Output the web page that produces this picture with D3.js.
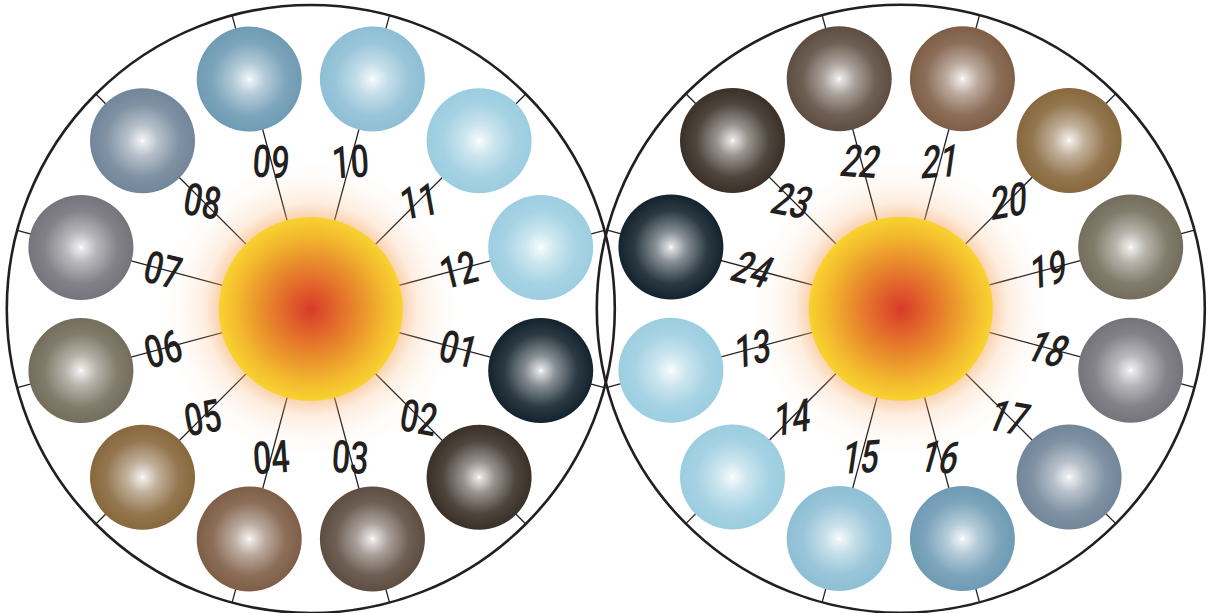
<!DOCTYPE html>
<html>
<head>
<meta charset="utf-8">
<script src="https://cdn.jsdelivr.net/npm/d3@7"></script>
<style>
  body { margin: 0; background: #fff; }
  svg { display: block; }
</style>
</head>
<body>
<svg id="chart"></svg>
<script>
// data
const leftLabels = ['01', '02', '03', '04', '05', '06', '07', '08', '09', '10', '11', '12'];
const rightLabels = ['13', '14', '15', '16', '17', '18', '19', '20', '21', '22', '23', '24'];
const leftColors = ['#13232d', '#3a3027', '#5e4d41', '#7f5e46', '#88683d', '#746d5c',
                    '#75747c', '#72869a', '#6f9bb4', '#8ebfd5', '#9bcde0', '#9ccee1'];
const rightColors = ['#9ccee1', '#9bcde0', '#8ebfd5', '#6f9bb4', '#72869a', '#75747c',
                     '#746d5c', '#88683d', '#7f5e46', '#5e4d41', '#3a3027', '#13232d'];

// set up constants
const width = 1209;
const height = 613;
const outerR = 304;
const sunR = 92;
const glowR = 148;
const orbitR = 238;
const ballR = 52.5;
const labelR = 153;
const ink = '#231f20';

const svg = d3.select('#chart')
  .attr('width', width)
  .attr('height', height);

const defs = svg.append('defs');

// sun gradient
const sunGrad = defs.append('radialGradient').attr('id', 'sun');
[[0, '#d83a2a'], [0.25, '#e1622b'], [0.55, '#ea912c'], [0.8, '#f3b92e'], [1, '#f8d330']]
  .forEach(s => sunGrad.append('stop').attr('offset', s[0]).attr('stop-color', s[1]));

const glowGrad = defs.append('radialGradient').attr('id', 'glow');
[[0, 0.55], [sunR / glowR, 0.5], [0.72, 0.2], [0.86, 0.06], [1, 0]]
  .forEach(s => glowGrad.append('stop').attr('offset', s[0])
    .attr('stop-color', '#f5a862').attr('stop-opacity', s[1]));

// one gradient per ball colour
const ballColors = Array.from(new Set(leftColors.concat(rightColors)));
ballColors.forEach((c, i) => {
  const mix = d3.interpolateRgb('#ffffff', c);
  const g = defs.append('radialGradient').attr('id', 'ball' + i);
  [[0, 0], [0.05, 0.15], [0.3, 0.52], [0.7, 0.9], [1, 1]]
    .forEach(s => g.append('stop').attr('offset', s[0]).attr('stop-color', mix(s[1])));
});

// position helper, angle in screen degrees (clockwise from +x)
const polar = (cx, cy, r, deg) => {
  const a = deg * Math.PI / 180;
  return [cx + r * Math.cos(a), cy + r * Math.sin(a)];
};

// label tilt: small rotation following the spoke
const tilt = deg => {
  let a = ((deg % 360) + 360) % 360;
  if (a > 90 && a <= 270) a -= 180;
  if (a > 270) a -= 360;
  const rad = a * Math.PI / 180;
  return Math.sign(a) * 14 * Math.cos(rad) / Math.cos(Math.PI / 12);
};

const wheels = [
  { cx: 310.8, cy: 309, labels: leftLabels, colors: leftColors,
    angle: d3.scaleLinear().domain([0, 11]).range([15, 345]), skew: 0 },
  { cx: 900.8, cy: 308.7, labels: rightLabels, colors: rightColors,
    angle: d3.scaleLinear().domain([0, 11]).range([165, -165]), skew: -12 }
];

// outer rings first so both arcs show in the overlap
svg.selectAll('circle.ring')
  .data(wheels)
  .enter()
  .append('circle')
  .attr('class', 'ring')
  .attr('cx', d => d.cx)
  .attr('cy', d => d.cy)
  .attr('r', outerR)
  .attr('fill', 'none')
  .attr('stroke', ink)
  .attr('stroke-width', 2.6);

wheels.forEach(w => {
  const g = svg.append('g');
  const items = w.labels.map((label, i) => ({
    label, color: w.colors[i], deg: w.angle(i)
  }));

  // spokes from centre to the rim (balls cover the middle part)
  g.selectAll('line')
    .data(items)
    .enter()
    .append('line')
    .attr('x1', w.cx)
    .attr('y1', w.cy)
    .attr('x2', d => polar(w.cx, w.cy, outerR, d.deg)[0])
    .attr('y2', d => polar(w.cx, w.cy, outerR, d.deg)[1])
    .attr('stroke', ink)
    .attr('stroke-width', 1.3);

  // glow + sun
  g.append('circle')
    .attr('cx', w.cx).attr('cy', w.cy).attr('r', glowR)
    .attr('fill', 'url(#glow)');
  g.append('circle')
    .attr('cx', w.cx).attr('cy', w.cy).attr('r', sunR)
    .attr('fill', 'url(#sun)');

  // balls
  g.selectAll('circle.ball')
    .data(items)
    .enter()
    .append('circle')
    .attr('class', 'ball')
    .attr('cx', d => polar(w.cx, w.cy, orbitR, d.deg)[0])
    .attr('cy', d => polar(w.cx, w.cy, orbitR, d.deg)[1])
    .attr('r', ballR)
    .attr('fill', d => `url(#ball${ballColors.indexOf(d.color)})`);

  // labels
  g.selectAll('text')
    .data(items)
    .enter()
    .append('text')
    .attr('transform', d => {
      const p = polar(w.cx, w.cy, labelR, d.deg);
      return `translate(${p[0]},${p[1]}) rotate(${tilt(d.deg)}) skewX(${w.skew}) scale(0.72,1)`;
    })
    .attr('text-anchor', 'middle')
    .attr('dy', '0.36em')
    .attr('font-family', 'Roboto, "Liberation Sans", sans-serif')
    .attr('font-weight', 500)
    .attr('font-size', 45)
    .attr('fill', ink)
    .text(d => d.label);
});
</script>
</body>
</html>
